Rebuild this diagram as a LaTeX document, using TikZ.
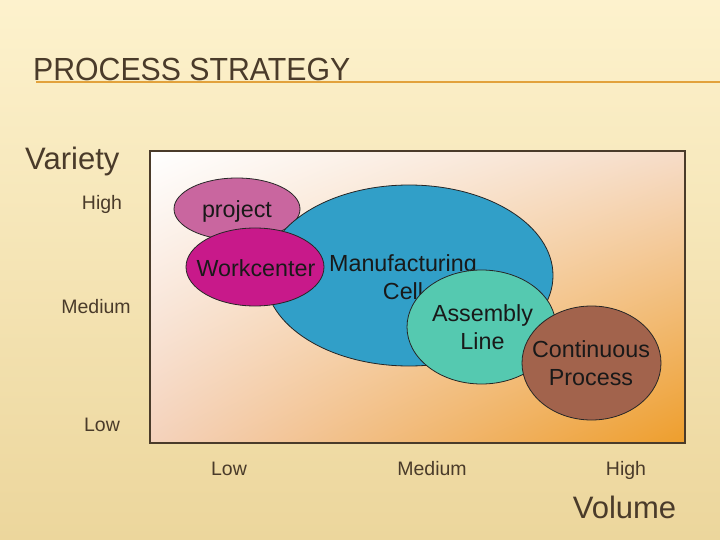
\documentclass[tikz,border=0pt]{standalone}
\usepackage{fontspec}
\setmainfont{Liberation Sans}
\usetikzlibrary{shapes.geometric,shadings}
\definecolor{bgtop}{HTML}{FDF2CD}
\definecolor{bgbot}{HTML}{ECD69C}
\definecolor{ink}{HTML}{4A3B2A}
\definecolor{rule}{HTML}{E2A23C}
\definecolor{cproject}{HTML}{C9669F}
\definecolor{cwork}{HTML}{C8198A}
\definecolor{cmanu}{HTML}{319FC8}
\definecolor{cassem}{HTML}{55C9B0}
\definecolor{ccont}{HTML}{A2634C}
\definecolor{boxur}{HTML}{F6DCC8}
\definecolor{boxll}{HTML}{F4D2BC}
\definecolor{boxlr}{HTML}{EE9E2C}
\tikzset{
  blob/.style={ellipse, draw=black!85, line width=0.8pt, inner sep=0pt},
  blobtext/.style={font=\fontsize{23.3}{28}\selectfont, text=black!90, align=center, inner sep=0pt, anchor=base},
  axislabel/.style={font=\fontsize{19.5}{23}\selectfont, text=ink, inner sep=0pt, anchor=base},
  axistitle/.style={font=\fontsize{31}{36}\selectfont, text=ink, inner sep=0pt, anchor=base}
}
\begin{document}
\begin{tikzpicture}[x=1pt,y=-1pt]
\useasboundingbox (0,0) rectangle (720,540);
% background
\shade[top color=bgtop, bottom color=bgbot] (0,0) rectangle (720,540);
% title
\node[anchor=base west, inner sep=0pt, text=ink, font=\fontsize{32}{36}\selectfont] (title) at (33,81) {\scalebox{0.945}[1]{PROCESS STRATEGY}};
\coordinate (ruleA) at (36,82.5);
\coordinate (ruleB) at (720,82.5);
\draw[rule, line width=2pt] (ruleA) -- (ruleB);
% chart box
\shade[upper left=white, upper right=boxur, lower left=boxll, lower right=boxlr] (150,151) rectangle (685,443);
\draw[ink, line width=2.5pt] (150,151) rectangle (685,443);
% ellipses
\node[blob, fill=cproject, minimum width=126, minimum height=62] (proj) at (237,209) {};
\node[blobtext] (projT) at (237,218) {project};
\node[blob, fill=cmanu, minimum width=288, minimum height=181] (manu) at (409,275.5) {};
\node[blobtext] (manuT) at (403,299) {Manufacturing\\Cell};
\node[blob, fill=cwork, minimum width=138, minimum height=78] (work) at (255,267) {};
\node[blobtext] (workT) at (256,276) {Workcenter};
\node[blob, fill=cassem, minimum width=149, minimum height=114] (assem) at (481.5,327) {};
\node[blobtext] (assemT) at (482.5,349) {Assembly\\Line};
\node[blob, fill=ccont, minimum width=139, minimum height=114] (cont) at (591.5,363) {};
\node[blobtext] (contT) at (591,385) {Continuous\\Process};
% axis labels
\node[axistitle, anchor=base west] (variety) at (25,170) {Variety};
\node[axislabel] (vhigh) at (102,210) {High};
\node[axislabel] (vmed) at (96,313) {Medium};
\node[axislabel] (vlow) at (102,431) {Low};
\node[axislabel] (hlow) at (229,475) {Low};
\node[axislabel] (hmed) at (432,475) {Medium};
\node[axislabel] (hhigh) at (626,475) {High};
\node[axistitle] (volume) at (624.5,518) {Volume};
\end{tikzpicture}
\end{document}
